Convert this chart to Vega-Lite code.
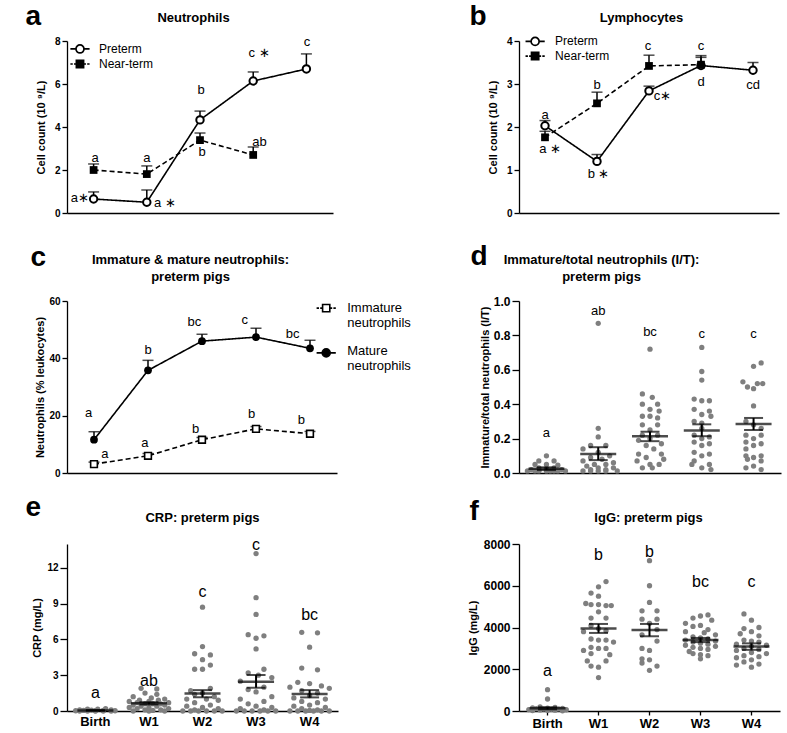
{
"$schema": "https://vega.github.io/schema/vega-lite/v6.json",
"padding": {"left": 25, "top": 2, "right": 2, "bottom": 2},
"background": "white",
"columns": 2,
"spacing": {"row": 14, "column": 56},
"resolve": {"scale": {"shape": "independent", "fill": "independent", "strokeDash": "independent", "color": "independent", "xOffset": "independent"}},
"datasets": {
"lines": [
{"p":"a","s":"Preterm","t":1,"v":0.65,"hi":0.98},{"p":"a","s":"Preterm","t":2,"v":0.50,"hi":1.07},{"p":"a","s":"Preterm","t":3,"v":4.33,"hi":4.74},{"p":"a","s":"Preterm","t":4,"v":6.14,"hi":6.56},{"p":"a","s":"Preterm","t":5,"v":6.70,"hi":7.40},
{"p":"a","s":"Near-term","t":1,"v":2.00,"hi":2.28},{"p":"a","s":"Near-term","t":2,"v":1.81,"hi":2.19},{"p":"a","s":"Near-term","t":3,"v":3.39,"hi":3.72},{"p":"a","s":"Near-term","t":4,"v":2.70,"hi":3.07},
{"p":"b","s":"Preterm","t":1,"v":2.03,"hi":2.15},{"p":"b","s":"Preterm","t":2,"v":1.20,"hi":1.36},{"p":"b","s":"Preterm","t":3,"v":2.84,"hi":2.95},{"p":"b","s":"Preterm","t":4,"v":3.43,"hi":3.62},{"p":"b","s":"Preterm","t":5,"v":3.32,"hi":3.50},
{"p":"b","s":"Near-term","t":1,"v":1.76,"hi":1.90},{"p":"b","s":"Near-term","t":2,"v":2.55,"hi":2.81},{"p":"b","s":"Near-term","t":3,"v":3.42,"hi":3.67},{"p":"b","s":"Near-term","t":4,"v":3.45,"hi":3.66},
{"p":"c","s":"Mature","t":1,"v":11.6,"hi":14.4},{"p":"c","s":"Mature","t":2,"v":35.8,"hi":39.3},{"p":"c","s":"Mature","t":3,"v":46.0,"hi":48.4},{"p":"c","s":"Mature","t":4,"v":47.4,"hi":50.5},{"p":"c","s":"Mature","t":5,"v":43.5,"hi":46.3},
{"p":"c","s":"Immature","t":1,"v":3.1,"hi":3.8},{"p":"c","s":"Immature","t":2,"v":6.0,"hi":6.8},{"p":"c","s":"Immature","t":3,"v":11.6,"hi":12.4},{"p":"c","s":"Immature","t":4,"v":15.4,"hi":16.2},{"p":"c","s":"Immature","t":5,"v":13.7,"hi":14.5}
],
"leg": [
{"p":"a","k":"sym","s":"Preterm","t":0.744,"v":7.63},{"p":"a","k":"sym","s":"Near-term","t":0.744,"v":6.93},
{"p":"a","k":"lab","t":0.744,"v":7.63,"lab":"Preterm"},{"p":"a","k":"lab","t":0.744,"v":6.93,"lab":"Near-term"},
{"p":"b","k":"sym","s":"Preterm","t":0.81,"v":3.99},{"p":"b","k":"sym","s":"Near-term","t":0.81,"v":3.65},
{"p":"b","k":"lab","t":0.81,"v":3.99,"lab":"Preterm"},{"p":"b","k":"lab","t":0.81,"v":3.65,"lab":"Near-term"},
{"p":"c","k":"sym","s":"Immature","t":5.3,"v":57.5},{"p":"c","k":"sym","s":"Mature","t":5.3,"v":41.9},
{"p":"c","k":"lab","t":5.3,"v":57.5,"lab":"Immature"},{"p":"c","k":"lab","t":5.3,"v":52.2,"lab":"neutrophils"},{"p":"c","k":"lab","t":5.3,"v":42.6,"lab":"Mature"},{"p":"c","k":"lab","t":5.3,"v":37.3,"lab":"neutrophils"}
],
"ann": [
{"p":"a","t":0.74,"v":0.70,"txt":"a∗"},{"p":"a","t":2.34,"v":0.47,"txt":"a ∗"},{"p":"a","t":3.02,"v":5.72,"txt":"b"},{"p":"a","t":4.11,"v":7.44,"txt":"c ∗"},{"p":"a","t":5.01,"v":7.95,"txt":"c"},
{"p":"a","t":1.03,"v":2.56,"txt":"a"},{"p":"a","t":2.0,"v":2.56,"txt":"a"},{"p":"a","t":3.04,"v":2.84,"txt":"b"},{"p":"a","t":4.12,"v":3.30,"txt":"ab"},
{"p":"b","t":1.0,"v":2.29,"txt":"a"},{"p":"b","t":1.10,"v":1.50,"txt":"a ∗"},{"p":"b","t":2.03,"v":0.90,"txt":"b ∗"},{"p":"b","t":2.0,"v":2.98,"txt":"b"},{"p":"b","t":2.98,"v":3.88,"txt":"c"},
{"p":"b","t":3.26,"v":2.71,"txt":"c∗"},{"p":"b","t":4.0,"v":3.88,"txt":"c"},{"p":"b","t":4.0,"v":3.05,"txt":"d"},{"p":"b","t":5.0,"v":2.98,"txt":"cd"},
{"p":"c","t":0.9,"v":21.1,"txt":"a"},{"p":"c","t":2.0,"v":42.8,"txt":"b"},{"p":"c","t":2.86,"v":52.6,"txt":"bc"},{"p":"c","t":3.79,"v":53.3,"txt":"c"},{"p":"c","t":4.68,"v":48.4,"txt":"bc"},
{"p":"c","t":1.2,"v":6.7,"txt":"a"},{"p":"c","t":1.94,"v":10.5,"txt":"a"},{"p":"c","t":2.88,"v":15.4,"txt":"b"},{"p":"c","t":3.92,"v":20.7,"txt":"b"},{"p":"c","t":4.84,"v":18.6,"txt":"b"},
{"p":"d","t":"Birth","v":0.235,"txt":"a"},{"p":"d","t":"W1","v":0.94,"txt":"ab"},{"p":"d","t":"W2","v":0.82,"txt":"bc"},{"p":"d","t":"W3","v":0.81,"txt":"c"},{"p":"d","t":"W4","v":0.81,"txt":"c"},
{"p":"e","t":"Birth","v":1.5,"txt":"a"},{"p":"e","t":"W1","v":2.5,"txt":"ab"},{"p":"e","t":"W2","v":10.0,"txt":"c"},{"p":"e","t":"W3","v":13.9,"txt":"c"},{"p":"e","t":"W4","v":8.05,"txt":"bc"},
{"p":"f","t":"Birth","v":1930,"txt":"a"},{"p":"f","t":"W1","v":7470,"txt":"b"},{"p":"f","t":"W2","v":7620,"txt":"b"},{"p":"f","t":"W3","v":6180,"txt":"bc"},{"p":"f","t":"W4","v":6180,"txt":"c"}
],
"summ": [
{"p":"d","t":"Birth","v":0.025,"lo":0.017,"hi":0.033},{"p":"d","t":"W1","v":0.11,"lo":0.075,"hi":0.15},{"p":"d","t":"W2","v":0.214,"lo":0.185,"hi":0.24},{"p":"d","t":"W3","v":0.247,"lo":0.214,"hi":0.283},{"p":"d","t":"W4","v":0.285,"lo":0.25,"hi":0.32},
{"p":"e","t":"Birth","v":0.05,"lo":0.03,"hi":0.07},{"p":"e","t":"W1","v":0.64,"lo":0.55,"hi":0.74},{"p":"e","t":"W2","v":1.46,"lo":1.15,"hi":1.75},{"p":"e","t":"W3","v":2.46,"lo":1.95,"hi":3.02},{"p":"e","t":"W4","v":1.42,"lo":1.14,"hi":1.75},
{"p":"f","t":"Birth","v":130,"lo":80,"hi":180},{"p":"f","t":"W1","v":3950,"lo":3740,"hi":4170},{"p":"f","t":"W2","v":3880,"lo":3580,"hi":4170},{"p":"f","t":"W3","v":3400,"lo":3300,"hi":3500},{"p":"f","t":"W4","v":3090,"lo":2930,"hi":3240}
],
"scatter": [
{"p":"d","t":"Birth","v":0.10,"j":0},{"p":"d","t":"Birth","v":0.07,"j":-1},{"p":"d","t":"Birth","v":0.07,"j":1},{"p":"d","t":"Birth","v":0.05,"j":-1.5},{"p":"d","t":"Birth","v":0.05,"j":0},{"p":"d","t":"Birth","v":0.045,"j":1.5},{"p":"d","t":"Birth","v":0.03,"j":-1},{"p":"d","t":"Birth","v":0.03,"j":1},{"p":"d","t":"Birth","v":0.025,"j":0},{"p":"d","t":"Birth","v":0.02,"j":-2},{"p":"d","t":"Birth","v":0.02,"j":2},{"p":"d","t":"Birth","v":0.015,"j":-1},{"p":"d","t":"Birth","v":0.015,"j":1},{"p":"d","t":"Birth","v":0.012,"j":0},{"p":"d","t":"Birth","v":0.012,"j":-1.5},{"p":"d","t":"Birth","v":0.012,"j":1.5},{"p":"d","t":"Birth","v":0.012,"j":-2.5},{"p":"d","t":"Birth","v":0.012,"j":-1},{"p":"d","t":"Birth","v":0.012,"j":0.5},{"p":"d","t":"Birth","v":0.012,"j":1},{"p":"d","t":"Birth","v":0.012,"j":2.5},
{"p":"d","t":"W1","v":0.87,"j":0},{"p":"d","t":"W1","v":0.26,"j":0},{"p":"d","t":"W1","v":0.21,"j":0},{"p":"d","t":"W1","v":0.16,"j":-1},{"p":"d","t":"W1","v":0.16,"j":1},{"p":"d","t":"W1","v":0.14,"j":-2},{"p":"d","t":"W1","v":0.12,"j":0},{"p":"d","t":"W1","v":0.10,"j":1.5},{"p":"d","t":"W1","v":0.09,"j":-1},{"p":"d","t":"W1","v":0.08,"j":0.5},{"p":"d","t":"W1","v":0.07,"j":-2},{"p":"d","t":"W1","v":0.06,"j":2},{"p":"d","t":"W1","v":0.05,"j":-0.5},{"p":"d","t":"W1","v":0.05,"j":1},{"p":"d","t":"W1","v":0.04,"j":-1.5},{"p":"d","t":"W1","v":0.03,"j":0},{"p":"d","t":"W1","v":0.03,"j":2},{"p":"d","t":"W1","v":0.02,"j":-1},{"p":"d","t":"W1","v":0.02,"j":1},{"p":"d","t":"W1","v":0.012,"j":-2},{"p":"d","t":"W1","v":0.012,"j":0},{"p":"d","t":"W1","v":0.012,"j":-1},{"p":"d","t":"W1","v":0.012,"j":1},{"p":"d","t":"W1","v":0.012,"j":2.5},
{"p":"d","t":"W2","v":0.72,"j":0},{"p":"d","t":"W2","v":0.46,"j":-1},{"p":"d","t":"W2","v":0.44,"j":0.3},{"p":"d","t":"W2","v":0.40,"j":-1},{"p":"d","t":"W2","v":0.40,"j":1},{"p":"d","t":"W2","v":0.37,"j":0},{"p":"d","t":"W2","v":0.36,"j":1.2},{"p":"d","t":"W2","v":0.33,"j":-1},{"p":"d","t":"W2","v":0.33,"j":0},{"p":"d","t":"W2","v":0.32,"j":1},{"p":"d","t":"W2","v":0.28,"j":-1},{"p":"d","t":"W2","v":0.28,"j":1},{"p":"d","t":"W2","v":0.25,"j":0},{"p":"d","t":"W2","v":0.22,"j":-1},{"p":"d","t":"W2","v":0.22,"j":1},{"p":"d","t":"W2","v":0.20,"j":0},{"p":"d","t":"W2","v":0.19,"j":-1.5},{"p":"d","t":"W2","v":0.17,"j":1.5},{"p":"d","t":"W2","v":0.16,"j":-0.5},{"p":"d","t":"W2","v":0.14,"j":0.5},{"p":"d","t":"W2","v":0.11,"j":-1.5},{"p":"d","t":"W2","v":0.11,"j":1.5},{"p":"d","t":"W2","v":0.09,"j":-0.5},{"p":"d","t":"W2","v":0.08,"j":1.8},{"p":"d","t":"W2","v":0.07,"j":-1.7},{"p":"d","t":"W2","v":0.05,"j":0},{"p":"d","t":"W2","v":0.05,"j":1.2},{"p":"d","t":"W2","v":0.03,"j":-1},{"p":"d","t":"W2","v":0.03,"j":0.3},
{"p":"d","t":"W3","v":0.73,"j":0},{"p":"d","t":"W3","v":0.59,"j":0},{"p":"d","t":"W3","v":0.54,"j":0},{"p":"d","t":"W3","v":0.43,"j":-1},{"p":"d","t":"W3","v":0.42,"j":0},{"p":"d","t":"W3","v":0.42,"j":1},{"p":"d","t":"W3","v":0.37,"j":-1},{"p":"d","t":"W3","v":0.36,"j":1},{"p":"d","t":"W3","v":0.34,"j":0},{"p":"d","t":"W3","v":0.33,"j":1.2},{"p":"d","t":"W3","v":0.30,"j":-1},{"p":"d","t":"W3","v":0.29,"j":0},{"p":"d","t":"W3","v":0.26,"j":0},{"p":"d","t":"W3","v":0.22,"j":-1},{"p":"d","t":"W3","v":0.21,"j":1},{"p":"d","t":"W3","v":0.20,"j":0},{"p":"d","t":"W3","v":0.18,"j":-1},{"p":"d","t":"W3","v":0.17,"j":1},{"p":"d","t":"W3","v":0.16,"j":0},{"p":"d","t":"W3","v":0.12,"j":-1},{"p":"d","t":"W3","v":0.11,"j":1},{"p":"d","t":"W3","v":0.10,"j":0},{"p":"d","t":"W3","v":0.07,"j":-1},{"p":"d","t":"W3","v":0.05,"j":1},{"p":"d","t":"W3","v":0.05,"j":-1.3},{"p":"d","t":"W3","v":0.03,"j":0},{"p":"d","t":"W3","v":0.02,"j":1.2},
{"p":"d","t":"W4","v":0.64,"j":1},{"p":"d","t":"W4","v":0.62,"j":0},{"p":"d","t":"W4","v":0.53,"j":-1.4},{"p":"d","t":"W4","v":0.52,"j":0.5},{"p":"d","t":"W4","v":0.52,"j":1.2},{"p":"d","t":"W4","v":0.50,"j":-0.8},{"p":"d","t":"W4","v":0.49,"j":0},{"p":"d","t":"W4","v":0.39,"j":0},{"p":"d","t":"W4","v":0.30,"j":-1},{"p":"d","t":"W4","v":0.28,"j":0},{"p":"d","t":"W4","v":0.26,"j":1},{"p":"d","t":"W4","v":0.22,"j":-1},{"p":"d","t":"W4","v":0.22,"j":1},{"p":"d","t":"W4","v":0.20,"j":0},{"p":"d","t":"W4","v":0.18,"j":-1},{"p":"d","t":"W4","v":0.17,"j":1},{"p":"d","t":"W4","v":0.16,"j":0},{"p":"d","t":"W4","v":0.14,"j":-1},{"p":"d","t":"W4","v":0.10,"j":-1},{"p":"d","t":"W4","v":0.10,"j":1},{"p":"d","t":"W4","v":0.09,"j":0},{"p":"d","t":"W4","v":0.08,"j":-0.8},{"p":"d","t":"W4","v":0.07,"j":1},{"p":"d","t":"W4","v":0.04,"j":0},{"p":"d","t":"W4","v":0.03,"j":-1},{"p":"d","t":"W4","v":0.02,"j":1},
{"p":"e","t":"Birth","v":0.2,"j":1.3},{"p":"e","t":"Birth","v":0.15,"j":-1},{"p":"e","t":"Birth","v":0.15,"j":0.3},{"p":"e","t":"Birth","v":0.1,"j":-2},{"p":"e","t":"Birth","v":0.1,"j":2},{"p":"e","t":"Birth","v":0.08,"j":-0.5},{"p":"e","t":"Birth","v":0.05,"j":1},{"p":"e","t":"Birth","v":0.05,"j":-1.5},{"p":"e","t":"Birth","v":0.03,"j":0},{"p":"e","t":"Birth","v":0.02,"j":-2.5},{"p":"e","t":"Birth","v":0.02,"j":2.5},{"p":"e","t":"Birth","v":0,"j":-1},{"p":"e","t":"Birth","v":0,"j":1},{"p":"e","t":"Birth","v":0,"j":0},{"p":"e","t":"Birth","v":0,"j":-2},{"p":"e","t":"Birth","v":0,"j":2},
{"p":"e","t":"W1","v":1.9,"j":-1},{"p":"e","t":"W1","v":1.85,"j":1},{"p":"e","t":"W1","v":1.5,"j":-0.5},{"p":"e","t":"W1","v":1.4,"j":1},{"p":"e","t":"W1","v":1.2,"j":-2},{"p":"e","t":"W1","v":1.1,"j":0.3},{"p":"e","t":"W1","v":1.0,"j":2},{"p":"e","t":"W1","v":0.9,"j":-1.2},{"p":"e","t":"W1","v":0.9,"j":1.2},{"p":"e","t":"W1","v":0.8,"j":-2.5},{"p":"e","t":"W1","v":0.8,"j":0},{"p":"e","t":"W1","v":0.7,"j":2.5},{"p":"e","t":"W1","v":0.7,"j":-1.5},{"p":"e","t":"W1","v":0.6,"j":1.5},{"p":"e","t":"W1","v":0.6,"j":-0.5},{"p":"e","t":"W1","v":0.6,"j":0.5},{"p":"e","t":"W1","v":0.5,"j":-2},{"p":"e","t":"W1","v":0.5,"j":2},{"p":"e","t":"W1","v":0.4,"j":-1},{"p":"e","t":"W1","v":0.4,"j":1},{"p":"e","t":"W1","v":0.3,"j":0},{"p":"e","t":"W1","v":0.3,"j":-2.5},{"p":"e","t":"W1","v":0.2,"j":2.5},{"p":"e","t":"W1","v":0.2,"j":-1.5},{"p":"e","t":"W1","v":0.1,"j":1.5},{"p":"e","t":"W1","v":0.1,"j":-0.5},{"p":"e","t":"W1","v":0.05,"j":0.5},{"p":"e","t":"W1","v":0,"j":-2},{"p":"e","t":"W1","v":0,"j":2},{"p":"e","t":"W1","v":0,"j":0},
{"p":"e","t":"W2","v":8.7,"j":0},{"p":"e","t":"W2","v":5.4,"j":0},{"p":"e","t":"W2","v":4.8,"j":-1},{"p":"e","t":"W2","v":4.7,"j":1},{"p":"e","t":"W2","v":4.3,"j":0},{"p":"e","t":"W2","v":3.85,"j":1},{"p":"e","t":"W2","v":3.5,"j":-1},{"p":"e","t":"W2","v":3.5,"j":0},{"p":"e","t":"W2","v":1.9,"j":1},{"p":"e","t":"W2","v":1.7,"j":-1.5},{"p":"e","t":"W2","v":1.5,"j":0},{"p":"e","t":"W2","v":1.4,"j":-1},{"p":"e","t":"W2","v":1.2,"j":1.5},{"p":"e","t":"W2","v":1.0,"j":-2},{"p":"e","t":"W2","v":1.0,"j":0.5},{"p":"e","t":"W2","v":0.9,"j":2},{"p":"e","t":"W2","v":0.7,"j":-1},{"p":"e","t":"W2","v":0.5,"j":1},{"p":"e","t":"W2","v":0.4,"j":-2},{"p":"e","t":"W2","v":0.3,"j":0},{"p":"e","t":"W2","v":0.2,"j":2},{"p":"e","t":"W2","v":0.1,"j":-1},{"p":"e","t":"W2","v":0,"j":-2.5},{"p":"e","t":"W2","v":0,"j":-1.5},{"p":"e","t":"W2","v":0,"j":-0.5},{"p":"e","t":"W2","v":0,"j":0.5},{"p":"e","t":"W2","v":0,"j":1.5},{"p":"e","t":"W2","v":0,"j":2.5},
{"p":"e","t":"W3","v":13.2,"j":0},{"p":"e","t":"W3","v":9.5,"j":0},{"p":"e","t":"W3","v":8.1,"j":0},{"p":"e","t":"W3","v":6.4,"j":-1},{"p":"e","t":"W3","v":6.3,"j":1},{"p":"e","t":"W3","v":6.1,"j":0},{"p":"e","t":"W3","v":5.2,"j":0},{"p":"e","t":"W3","v":3.5,"j":1},{"p":"e","t":"W3","v":3.2,"j":-1},{"p":"e","t":"W3","v":3.0,"j":0.3},{"p":"e","t":"W3","v":2.8,"j":2},{"p":"e","t":"W3","v":2.5,"j":-2},{"p":"e","t":"W3","v":2.0,"j":1},{"p":"e","t":"W3","v":1.8,"j":-1},{"p":"e","t":"W3","v":1.6,"j":0},{"p":"e","t":"W3","v":1.2,"j":2},{"p":"e","t":"W3","v":1.0,"j":-2},{"p":"e","t":"W3","v":0.8,"j":1},{"p":"e","t":"W3","v":0.6,"j":-1},{"p":"e","t":"W3","v":0.4,"j":0},{"p":"e","t":"W3","v":0.3,"j":2},{"p":"e","t":"W3","v":0.2,"j":-2},{"p":"e","t":"W3","v":0.1,"j":1},{"p":"e","t":"W3","v":0,"j":-2.5},{"p":"e","t":"W3","v":0,"j":-1.5},{"p":"e","t":"W3","v":0,"j":-0.5},{"p":"e","t":"W3","v":0,"j":0.5},{"p":"e","t":"W3","v":0,"j":1.5},{"p":"e","t":"W3","v":0,"j":2.5},
{"p":"e","t":"W4","v":6.6,"j":-1},{"p":"e","t":"W4","v":6.55,"j":1},{"p":"e","t":"W4","v":5.35,"j":0},{"p":"e","t":"W4","v":3.6,"j":-1},{"p":"e","t":"W4","v":3.45,"j":1},{"p":"e","t":"W4","v":2.4,"j":-1.5},{"p":"e","t":"W4","v":2.3,"j":0},{"p":"e","t":"W4","v":2.1,"j":1.5},{"p":"e","t":"W4","v":2.0,"j":-2.5},{"p":"e","t":"W4","v":1.9,"j":2.5},{"p":"e","t":"W4","v":1.7,"j":-1},{"p":"e","t":"W4","v":1.5,"j":1},{"p":"e","t":"W4","v":1.3,"j":0},{"p":"e","t":"W4","v":1.1,"j":-2},{"p":"e","t":"W4","v":1.0,"j":2},{"p":"e","t":"W4","v":0.8,"j":-1},{"p":"e","t":"W4","v":0.7,"j":1},{"p":"e","t":"W4","v":0.5,"j":0},{"p":"e","t":"W4","v":0.4,"j":-2},{"p":"e","t":"W4","v":0.3,"j":2},{"p":"e","t":"W4","v":0.2,"j":-1},{"p":"e","t":"W4","v":0.1,"j":1},{"p":"e","t":"W4","v":0.05,"j":0},{"p":"e","t":"W4","v":0,"j":-2.5},{"p":"e","t":"W4","v":0,"j":-1.5},{"p":"e","t":"W4","v":0,"j":-0.5},{"p":"e","t":"W4","v":0,"j":0.5},{"p":"e","t":"W4","v":0,"j":1.5},{"p":"e","t":"W4","v":0,"j":2.5},
{"p":"f","t":"Birth","v":1020,"j":0},{"p":"f","t":"Birth","v":575,"j":0},{"p":"f","t":"Birth","v":200,"j":-1},{"p":"f","t":"Birth","v":170,"j":1},{"p":"f","t":"Birth","v":150,"j":-2},{"p":"f","t":"Birth","v":140,"j":0},{"p":"f","t":"Birth","v":130,"j":2},{"p":"f","t":"Birth","v":110,"j":-1.5},{"p":"f","t":"Birth","v":100,"j":1.5},{"p":"f","t":"Birth","v":90,"j":-0.5},{"p":"f","t":"Birth","v":80,"j":0.5},{"p":"f","t":"Birth","v":70,"j":-2.5},{"p":"f","t":"Birth","v":60,"j":2.5},{"p":"f","t":"Birth","v":50,"j":-1},{"p":"f","t":"Birth","v":40,"j":1},{"p":"f","t":"Birth","v":30,"j":0},{"p":"f","t":"Birth","v":20,"j":-2},{"p":"f","t":"Birth","v":10,"j":2},
{"p":"f","t":"W1","v":6200,"j":1},{"p":"f","t":"W1","v":5950,"j":0},{"p":"f","t":"W1","v":5650,"j":-1},{"p":"f","t":"W1","v":5500,"j":0},{"p":"f","t":"W1","v":5150,"j":-1.7},{"p":"f","t":"W1","v":5100,"j":-1},{"p":"f","t":"W1","v":5100,"j":0},{"p":"f","t":"W1","v":5050,"j":1},{"p":"f","t":"W1","v":5050,"j":1.7},{"p":"f","t":"W1","v":4750,"j":0},{"p":"f","t":"W1","v":4450,"j":-1},{"p":"f","t":"W1","v":4450,"j":1},{"p":"f","t":"W1","v":4100,"j":-1},{"p":"f","t":"W1","v":3950,"j":0},{"p":"f","t":"W1","v":3850,"j":1},{"p":"f","t":"W1","v":3800,"j":-2},{"p":"f","t":"W1","v":3450,"j":-1},{"p":"f","t":"W1","v":3400,"j":0},{"p":"f","t":"W1","v":3400,"j":1},{"p":"f","t":"W1","v":3300,"j":2},{"p":"f","t":"W1","v":3050,"j":-1},{"p":"f","t":"W1","v":3000,"j":0},{"p":"f","t":"W1","v":3000,"j":1},{"p":"f","t":"W1","v":2900,"j":-2},{"p":"f","t":"W1","v":2750,"j":-1},{"p":"f","t":"W1","v":2700,"j":1.5},{"p":"f","t":"W1","v":2400,"j":1},{"p":"f","t":"W1","v":2400,"j":-1.5},{"p":"f","t":"W1","v":2150,"j":-1},{"p":"f","t":"W1","v":2100,"j":0},{"p":"f","t":"W1","v":1600,"j":0},
{"p":"f","t":"W2","v":7200,"j":0},{"p":"f","t":"W2","v":6000,"j":0},{"p":"f","t":"W2","v":5200,"j":0},{"p":"f","t":"W2","v":4800,"j":-1},{"p":"f","t":"W2","v":4800,"j":1},{"p":"f","t":"W2","v":4400,"j":-1},{"p":"f","t":"W2","v":4400,"j":1},{"p":"f","t":"W2","v":4200,"j":0},{"p":"f","t":"W2","v":3900,"j":1},{"p":"f","t":"W2","v":3650,"j":-1},{"p":"f","t":"W2","v":3350,"j":1},{"p":"f","t":"W2","v":3000,"j":-1},{"p":"f","t":"W2","v":2900,"j":0},{"p":"f","t":"W2","v":2500,"j":-1},{"p":"f","t":"W2","v":2450,"j":0},{"p":"f","t":"W2","v":2300,"j":-1},{"p":"f","t":"W2","v":2150,"j":1},{"p":"f","t":"W2","v":1950,"j":0},
{"p":"f","t":"W3","v":4600,"j":1},{"p":"f","t":"W3","v":4550,"j":0},{"p":"f","t":"W3","v":4450,"j":-1},{"p":"f","t":"W3","v":4350,"j":1.5},{"p":"f","t":"W3","v":4200,"j":-2},{"p":"f","t":"W3","v":4100,"j":0},{"p":"f","t":"W3","v":4050,"j":-1},{"p":"f","t":"W3","v":3900,"j":1},{"p":"f","t":"W3","v":3800,"j":-2},{"p":"f","t":"W3","v":3750,"j":0.5},{"p":"f","t":"W3","v":3650,"j":2},{"p":"f","t":"W3","v":3550,"j":-1},{"p":"f","t":"W3","v":3500,"j":0},{"p":"f","t":"W3","v":3450,"j":1},{"p":"f","t":"W3","v":3400,"j":-2},{"p":"f","t":"W3","v":3350,"j":2},{"p":"f","t":"W3","v":3300,"j":-1},{"p":"f","t":"W3","v":3250,"j":0},{"p":"f","t":"W3","v":3200,"j":1},{"p":"f","t":"W3","v":3150,"j":-2},{"p":"f","t":"W3","v":3100,"j":2},{"p":"f","t":"W3","v":3050,"j":-1},{"p":"f","t":"W3","v":3000,"j":0},{"p":"f","t":"W3","v":2950,"j":1},{"p":"f","t":"W3","v":2850,"j":-1.5},{"p":"f","t":"W3","v":2750,"j":-1},{"p":"f","t":"W3","v":2700,"j":0},{"p":"f","t":"W3","v":2650,"j":1},{"p":"f","t":"W3","v":2500,"j":0},
{"p":"f","t":"W4","v":4650,"j":-1},{"p":"f","t":"W4","v":4350,"j":0},{"p":"f","t":"W4","v":4000,"j":1},{"p":"f","t":"W4","v":3950,"j":-1},{"p":"f","t":"W4","v":3800,"j":0},{"p":"f","t":"W4","v":3700,"j":-1.5},{"p":"f","t":"W4","v":3600,"j":1},{"p":"f","t":"W4","v":3400,"j":-1},{"p":"f","t":"W4","v":3350,"j":0},{"p":"f","t":"W4","v":3300,"j":1},{"p":"f","t":"W4","v":3200,"j":-2},{"p":"f","t":"W4","v":3150,"j":2},{"p":"f","t":"W4","v":3100,"j":0},{"p":"f","t":"W4","v":3000,"j":-1},{"p":"f","t":"W4","v":2950,"j":1},{"p":"f","t":"W4","v":2900,"j":-2},{"p":"f","t":"W4","v":2800,"j":0},{"p":"f","t":"W4","v":2750,"j":2},{"p":"f","t":"W4","v":2650,"j":-1},{"p":"f","t":"W4","v":2600,"j":1},{"p":"f","t":"W4","v":2550,"j":-2},{"p":"f","t":"W4","v":2450,"j":0},{"p":"f","t":"W4","v":2350,"j":-1},{"p":"f","t":"W4","v":2250,"j":1},{"p":"f","t":"W4","v":2200,"j":-2},{"p":"f","t":"W4","v":2100,"j":0}
]
},
"concat": [
{"width": 266, "height": 172,
 "resolve": {"axis": {"x": "independent"}},
 "encoding": {
  "x": {"field": "t", "type": "quantitative", "scale": {"domain": [0.5, 5.5], "nice": false, "zero": false}, "axis": null},
  "y": {"field": "v", "type": "quantitative", "scale": {"domain": [0, 8]}, "axis": {"values": [0, 2, 4, 6, 8], "title": "Cell count (10 ⁹/L)", "labelFontSize": 10, "titlePadding": 8, "tickSize": 5}}
 },
 "layer": [
  {"data": {"name": "lines"}, "transform": [{"filter": "datum.p === 'a'"}], "mark": {"type": "line", "color": "black", "strokeWidth": 1.6}, "encoding": {"x": {"field": "t", "type": "quantitative", "scale": {"domain": [0.5, 5.5], "nice": false, "zero": false}, "axis": {"labels": false, "ticks": false, "title": null}}, "strokeDash": {"field": "s", "type": "nominal", "scale": {"domain": ["Preterm", "Near-term"], "range": [[1, 0], [5, 3]]}, "legend": null}}},
  {"data": {"name": "lines"}, "transform": [{"filter": "datum.p === 'a'"}], "mark": {"type": "rule", "color": "black", "strokeWidth": 1.5}, "encoding": {"y2": {"field": "hi"}}},
  {"data": {"name": "lines"}, "transform": [{"filter": "datum.p === 'a'"}], "mark": {"type": "tick", "orient": "horizontal", "color": "black", "size": 11, "thickness": 1.5}, "encoding": {"y": {"field": "hi", "type": "quantitative", "scale": {"domain": [0, 8]}}}},
  {"data": {"name": "lines"}, "transform": [{"filter": "datum.p === 'a' && datum.s === 'Preterm'"}], "mark": {"type": "point", "shape": "circle", "filled": true, "fill": "white", "stroke": "black", "strokeWidth": 2, "size": 55, "opacity": 1}},
  {"data": {"name": "lines"}, "transform": [{"filter": "datum.p === 'a' && datum.s === 'Near-term'"}], "mark": {"type": "point", "shape": "square", "filled": true, "color": "black", "size": 60, "opacity": 1}},
  {"data": {"name": "ann"}, "transform": [{"filter": "datum.p === 'a'"}], "mark": {"type": "text", "fontSize": 13, "baseline": "middle"}, "encoding": {"x": {"field": "t", "type": "quantitative", "scale": {"domain": [0.5, 5.5], "nice": false, "zero": false}, "axis": {"orient": "top", "domain": false, "ticks": false, "labels": false, "title": "Neutrophils", "titleFontSize": 13, "titleX": 126, "titleY": -19.5, "titleAlign": "center", "titleBaseline": "alphabetic", "titleAngle": 0}}, "text": {"field": "txt"}}},
  {"data": {"name": "leg"}, "transform": [{"filter": "datum.p === 'a' && datum.k === 'sym'"}], "mark": {"type": "point", "filled": false, "color": "black", "strokeWidth": 1.7, "size": 64, "opacity": 1},
   "encoding": {
    "x": {"field": "t", "type": "quantitative", "scale": {"domain": [0.5, 5.5], "nice": false, "zero": false}, "axis": {"orient": "top", "domain": false, "ticks": false, "labels": false, "title": "a", "titleFontSize": 28, "titleFontWeight": "bold", "titleX": -42, "titleY": -17, "titleAlign": "left", "titleBaseline": "alphabetic", "titleAngle": 0}},
    "shape": {"field": "s", "type": "nominal", "scale": {"domain": ["Preterm", "Near-term"], "range": ["M-2.4,0L-1,0M1,0L2.4,0M1,0A1,1,0,1,1,-1,0A1,1,0,1,1,1,0Z", "M-2.4,0L-1.8,0M-1.5,0L-0.9,0M0.9,0L1.5,0M1.8,0L2.4,0M-0.9,-0.9L0.9,-0.9L0.9,0.9L-0.9,0.9Z"]}, "legend": null},
    "fill": {"field": "s", "type": "nominal", "scale": {"domain": ["Preterm", "Near-term"], "range": ["white", "black"]}, "legend": null}
   }},
  {"data": {"name": "leg"}, "transform": [{"filter": "datum.p === 'a' && datum.k === 'lab'"}], "mark": {"type": "text", "fontSize": 12, "align": "left", "baseline": "middle", "dx": 19}, "encoding": {"text": {"field": "lab"}}}
 ]
},
{"width": 260, "height": 172,
 "resolve": {"axis": {"x": "independent"}},
 "encoding": {
  "x": {"field": "t", "type": "quantitative", "scale": {"domain": [0.5, 5.5], "nice": false, "zero": false}, "axis": null},
  "y": {"field": "v", "type": "quantitative", "scale": {"domain": [0, 4]}, "axis": {"values": [0, 1, 2, 3, 4], "title": "Cell count (10 ⁹/L)", "labelFontSize": 10, "titlePadding": 8, "tickSize": 5}}
 },
 "layer": [
  {"data": {"name": "lines"}, "transform": [{"filter": "datum.p === 'b'"}], "mark": {"type": "line", "color": "black", "strokeWidth": 1.6}, "encoding": {"x": {"field": "t", "type": "quantitative", "scale": {"domain": [0.5, 5.5], "nice": false, "zero": false}, "axis": {"labels": false, "ticks": false, "title": null}}, "strokeDash": {"field": "s", "type": "nominal", "scale": {"domain": ["Preterm", "Near-term"], "range": [[1, 0], [5, 3]]}, "legend": null}}},
  {"data": {"name": "lines"}, "transform": [{"filter": "datum.p === 'b'"}], "mark": {"type": "rule", "color": "black", "strokeWidth": 1.5}, "encoding": {"y2": {"field": "hi"}}},
  {"data": {"name": "lines"}, "transform": [{"filter": "datum.p === 'b'"}], "mark": {"type": "tick", "orient": "horizontal", "color": "black", "size": 11, "thickness": 1.5}, "encoding": {"y": {"field": "hi", "type": "quantitative", "scale": {"domain": [0, 4]}}}},
  {"data": {"name": "lines"}, "transform": [{"filter": "datum.p === 'b' && datum.s === 'Preterm'"}], "mark": {"type": "point", "shape": "circle", "filled": true, "fill": "white", "stroke": "black", "strokeWidth": 2, "size": 55, "opacity": 1}},
  {"data": {"name": "lines"}, "transform": [{"filter": "datum.p === 'b' && datum.s === 'Near-term'"}], "mark": {"type": "point", "shape": "square", "filled": true, "color": "black", "size": 60, "opacity": 1}},
  {"data": {"name": "ann"}, "transform": [{"filter": "datum.p === 'b'"}], "mark": {"type": "text", "fontSize": 13, "baseline": "middle"}, "encoding": {"x": {"field": "t", "type": "quantitative", "scale": {"domain": [0.5, 5.5], "nice": false, "zero": false}, "axis": {"orient": "top", "domain": false, "ticks": false, "labels": false, "title": "Lymphocytes", "titleFontSize": 13, "titleX": 122, "titleY": -19.5, "titleAlign": "center", "titleBaseline": "alphabetic", "titleAngle": 0}}, "text": {"field": "txt"}}},
  {"data": {"name": "leg"}, "transform": [{"filter": "datum.p === 'b' && datum.k === 'sym'"}], "mark": {"type": "point", "filled": false, "color": "black", "strokeWidth": 1.7, "size": 64, "opacity": 1},
   "encoding": {
    "x": {"field": "t", "type": "quantitative", "scale": {"domain": [0.5, 5.5], "nice": false, "zero": false}, "axis": {"orient": "top", "domain": false, "ticks": false, "labels": false, "title": "b", "titleFontSize": 28, "titleFontWeight": "bold", "titleX": -50, "titleY": -16.5, "titleAlign": "left", "titleBaseline": "alphabetic", "titleAngle": 0}},
    "shape": {"field": "s", "type": "nominal", "scale": {"domain": ["Preterm", "Near-term"], "range": ["M-2.4,0L-1,0M1,0L2.4,0M1,0A1,1,0,1,1,-1,0A1,1,0,1,1,1,0Z", "M-2.4,0L-1.8,0M-1.5,0L-0.9,0M0.9,0L1.5,0M1.8,0L2.4,0M-0.9,-0.9L0.9,-0.9L0.9,0.9L-0.9,0.9Z"]}, "legend": null},
    "fill": {"field": "s", "type": "nominal", "scale": {"domain": ["Preterm", "Near-term"], "range": ["white", "black"]}, "legend": null}
   }},
  {"data": {"name": "leg"}, "transform": [{"filter": "datum.p === 'b' && datum.k === 'lab'"}], "mark": {"type": "text", "fontSize": 12, "align": "left", "baseline": "middle", "dx": 20}, "encoding": {"text": {"field": "lab"}}}
 ]
},
{"width": 270, "height": 172,
 "resolve": {"axis": {"x": "independent"}},
 "encoding": {
  "x": {"field": "t", "type": "quantitative", "scale": {"domain": [0.5, 5.5], "nice": false, "zero": false}, "axis": null},
  "y": {"field": "v", "type": "quantitative", "scale": {"domain": [0, 60]}, "axis": {"values": [0, 20, 40, 60], "title": "Neutrophils (% leukocytes)", "labelFontSize": 10, "titlePadding": 3, "tickSize": 5}}
 },
 "layer": [
  {"data": {"name": "lines"}, "transform": [{"filter": "datum.p === 'c'"}], "mark": {"type": "line", "color": "black", "strokeWidth": 1.6}, "encoding": {"x": {"field": "t", "type": "quantitative", "scale": {"domain": [0.5, 5.5], "nice": false, "zero": false}, "axis": {"labels": false, "ticks": false, "title": null}}, "strokeDash": {"field": "s", "type": "nominal", "scale": {"domain": ["Immature", "Mature"], "range": [[5, 3], [1, 0]]}, "legend": null}}},
  {"data": {"name": "lines"}, "transform": [{"filter": "datum.p === 'c'"}], "mark": {"type": "rule", "color": "black", "strokeWidth": 1.5}, "encoding": {"y2": {"field": "hi"}}},
  {"data": {"name": "lines"}, "transform": [{"filter": "datum.p === 'c'"}], "mark": {"type": "tick", "orient": "horizontal", "color": "black", "size": 11, "thickness": 1.5}, "encoding": {"y": {"field": "hi", "type": "quantitative", "scale": {"domain": [0, 60]}}}},
  {"data": {"name": "lines"}, "transform": [{"filter": "datum.p === 'c' && datum.s === 'Immature'"}], "mark": {"type": "point", "shape": "square", "filled": true, "fill": "white", "stroke": "black", "strokeWidth": 1.6, "size": 45, "opacity": 1}},
  {"data": {"name": "lines"}, "transform": [{"filter": "datum.p === 'c' && datum.s === 'Mature'"}], "mark": {"type": "point", "shape": "circle", "filled": true, "color": "black", "size": 60, "opacity": 1}},
  {"data": {"name": "ann"}, "transform": [{"filter": "datum.p === 'c'"}], "mark": {"type": "text", "fontSize": 13, "baseline": "middle"}, "encoding": {"x": {"field": "t", "type": "quantitative", "scale": {"domain": [0.5, 5.5], "nice": false, "zero": false}, "axis": {"orient": "top", "domain": false, "ticks": false, "labels": false, "title": ["Immature & mature neutrophils:", "preterm pigs"], "titleFontSize": 13, "titleLineHeight": 16.5, "titleX": 123, "titleY": -37.5, "titleAlign": "center", "titleBaseline": "alphabetic", "titleAngle": 0}}, "text": {"field": "txt"}}},
  {"data": {"name": "leg"}, "transform": [{"filter": "datum.p === 'c' && datum.k === 'sym'"}], "mark": {"type": "point", "filled": false, "color": "black", "strokeWidth": 1.6, "size": 64, "opacity": 1},
   "encoding": {
    "x": {"field": "t", "type": "quantitative", "scale": {"domain": [0.5, 5.5], "nice": false, "zero": false}, "axis": {"orient": "top", "domain": false, "ticks": false, "labels": false, "title": "c", "titleFontSize": 28, "titleFontWeight": "bold", "titleX": -37, "titleY": -35.2, "titleAlign": "left", "titleBaseline": "alphabetic", "titleAngle": 0}},
    "shape": {"field": "s", "type": "nominal", "scale": {"domain": ["Immature", "Mature"], "range": ["M-2.4,0L-1.8,0M-1.5,0L-0.9,0M0.9,0L1.5,0M1.8,0L2.4,0M-0.9,-0.9L0.9,-0.9L0.9,0.9L-0.9,0.9Z", "M-2.4,0L-1,0M1,0L2.4,0M1,0A1,1,0,1,1,-1,0A1,1,0,1,1,1,0Z"]}, "legend": null},
    "fill": {"field": "s", "type": "nominal", "scale": {"domain": ["Immature", "Mature"], "range": ["white", "black"]}, "legend": null}
   }},
  {"data": {"name": "leg"}, "transform": [{"filter": "datum.p === 'c' && datum.k === 'lab'"}], "mark": {"type": "text", "fontSize": 13, "align": "left", "baseline": "middle", "dx": 21}, "encoding": {"text": {"field": "lab"}}}
 ]
},
{"width": 262, "height": 172,
 "resolve": {"axis": {"x": "independent"}},
 "encoding": {
  "x": {"field": "t", "type": "ordinal", "sort": ["Birth", "W1", "W2", "W3", "W4"], "scale": {"type": "band", "paddingInner": 0, "paddingOuter": 0.03}, "axis": null},
  "y": {"field": "v", "type": "quantitative", "scale": {"domain": [0, 1]}, "axis": {"values": [0, 0.2, 0.4, 0.6, 0.8, 1.0], "format": ".1f", "title": "Immature/total neutrophils  (I/T)", "labelFontSize": 12, "titlePadding": 3, "tickSize": 7}}
 },
 "layer": [
  {"data": {"name": "scatter"}, "transform": [{"filter": "datum.p === 'd'"}], "mark": {"type": "circle", "color": "#7f7f7f", "size": 28, "opacity": 1}, "encoding": {"x": {"field": "t", "type": "ordinal", "sort": ["Birth", "W1", "W2", "W3", "W4"], "scale": {"type": "band", "paddingInner": 0, "paddingOuter": 0.03}, "axis": {"labels": false, "ticks": false, "title": null}}, "xOffset": {"field": "j", "type": "quantitative", "scale": {"domain": [-3.4, 3.4]}}}},
  {"data": {"name": "summ"}, "transform": [{"filter": "datum.p === 'd'"}], "mark": {"type": "tick", "color": "black", "size": 36, "thickness": 2.5}, "encoding": {"x": {"field": "t", "type": "ordinal", "sort": ["Birth", "W1", "W2", "W3", "W4"], "scale": {"type": "band", "paddingInner": 0, "paddingOuter": 0.03}, "axis": {"orient": "top", "domain": false, "ticks": false, "labels": false, "title": [" ", "d"], "titleLineHeight": 10, "titleFontSize": 28, "titleFontWeight": "bold", "titleX": -49, "titleY": -46.6, "titleAlign": "left", "titleBaseline": "alphabetic", "titleAngle": 0}}}},
  {"data": {"name": "summ"}, "transform": [{"filter": "datum.p === 'd'"}], "mark": {"type": "rule", "color": "black", "strokeWidth": 2}, "encoding": {"y": {"field": "lo", "type": "quantitative", "scale": {"domain": [0, 1]}}, "y2": {"field": "hi"}}},
  {"data": {"name": "summ"}, "transform": [{"filter": "datum.p === 'd'"}], "mark": {"type": "tick", "color": "black", "size": 19, "thickness": 2}, "encoding": {"y": {"field": "lo", "type": "quantitative", "scale": {"domain": [0, 1]}}}},
  {"data": {"name": "summ"}, "transform": [{"filter": "datum.p === 'd'"}], "mark": {"type": "tick", "color": "black", "size": 19, "thickness": 2}, "encoding": {"y": {"field": "hi", "type": "quantitative", "scale": {"domain": [0, 1]}}}},
  {"data": {"name": "ann"}, "transform": [{"filter": "datum.p === 'd'"}], "mark": {"type": "text", "fontSize": 13, "baseline": "middle"}, "encoding": {"x": {"field": "t", "type": "ordinal", "sort": ["Birth", "W1", "W2", "W3", "W4"], "scale": {"type": "band", "paddingInner": 0, "paddingOuter": 0.03}, "axis": {"orient": "top", "domain": false, "ticks": false, "labels": false, "title": ["Immature/total neutrophils (I/T):", "preterm pigs"], "titleFontSize": 13, "titleLineHeight": 16.5, "titleX": 82, "titleY": -37.5, "titleAlign": "center", "titleBaseline": "alphabetic", "titleAngle": 0}}, "text": {"field": "txt"}}}
 ]
},
{"width": 271, "height": 167,
 "resolve": {"axis": {"x": "independent"}},
 "encoding": {
  "x": {"field": "t", "type": "ordinal", "sort": ["Birth", "W1", "W2", "W3", "W4"], "scale": {"type": "band", "paddingInner": 0, "paddingOuter": 0.03}, "axis": null},
  "y": {"field": "v", "type": "quantitative", "scale": {"domain": [0, 14]}, "axis": {"values": [0, 3, 6, 9, 12], "title": "CRP (mg/L)", "labelFontSize": 10, "titlePadding": 4, "tickSize": 7}}
 },
 "layer": [
  {"data": {"name": "scatter"}, "transform": [{"filter": "datum.p === 'e'"}], "mark": {"type": "circle", "color": "#7f7f7f", "size": 28, "opacity": 1}, "encoding": {"x": {"field": "t", "type": "ordinal", "sort": ["Birth", "W1", "W2", "W3", "W4"], "scale": {"type": "band", "paddingInner": 0, "paddingOuter": 0.03}, "axis": {"ticks": false, "title": null, "labelAngle": 0, "labelFontSize": 13, "labelPadding": 4}}, "xOffset": {"field": "j", "type": "quantitative", "scale": {"domain": [-3.4, 3.4]}}}},
  {"data": {"name": "summ"}, "transform": [{"filter": "datum.p === 'e'"}], "mark": {"type": "tick", "color": "black", "size": 36, "thickness": 2.5}, "encoding": {"x": {"field": "t", "type": "ordinal", "sort": ["Birth", "W1", "W2", "W3", "W4"], "scale": {"type": "band", "paddingInner": 0, "paddingOuter": 0.03}, "axis": {"orient": "top", "domain": false, "ticks": false, "labels": false, "title": "e", "titleFontSize": 28, "titleFontWeight": "bold", "titleX": -42, "titleY": -28.2, "titleAlign": "left", "titleBaseline": "alphabetic", "titleAngle": 0}}}},
  {"data": {"name": "summ"}, "transform": [{"filter": "datum.p === 'e'"}], "mark": {"type": "rule", "color": "black", "strokeWidth": 2}, "encoding": {"y": {"field": "lo", "type": "quantitative", "scale": {"domain": [0, 14]}}, "y2": {"field": "hi"}}},
  {"data": {"name": "summ"}, "transform": [{"filter": "datum.p === 'e'"}], "mark": {"type": "tick", "color": "black", "size": 19, "thickness": 2}, "encoding": {"y": {"field": "lo", "type": "quantitative", "scale": {"domain": [0, 14]}}}},
  {"data": {"name": "summ"}, "transform": [{"filter": "datum.p === 'e'"}], "mark": {"type": "tick", "color": "black", "size": 19, "thickness": 2}, "encoding": {"y": {"field": "hi", "type": "quantitative", "scale": {"domain": [0, 14]}}}},
  {"data": {"name": "ann"}, "transform": [{"filter": "datum.p === 'e'"}], "mark": {"type": "text", "fontSize": 16, "baseline": "middle"}, "encoding": {"x": {"field": "t", "type": "ordinal", "sort": ["Birth", "W1", "W2", "W3", "W4"], "scale": {"type": "band", "paddingInner": 0, "paddingOuter": 0.03}, "axis": {"orient": "top", "domain": false, "ticks": false, "labels": false, "title": "CRP: preterm pigs", "titleFontSize": 13, "titleX": 135, "titleY": -23, "titleAlign": "center", "titleBaseline": "alphabetic", "titleAngle": 0}}, "text": {"field": "txt"}}}
 ]
},
{"width": 261, "height": 167,
 "resolve": {"axis": {"x": "independent"}},
 "encoding": {
  "x": {"field": "t", "type": "ordinal", "sort": ["Birth", "W1", "W2", "W3", "W4"], "scale": {"type": "band", "paddingInner": 0, "paddingOuter": 0.06}, "axis": null},
  "y": {"field": "v", "type": "quantitative", "scale": {"domain": [0, 8000]}, "axis": {"values": [0, 2000, 4000, 6000, 8000], "format": "d", "title": "IgG  (mg/L)", "labelFontSize": 12, "titlePadding": 5, "tickSize": 7}}
 },
 "layer": [
  {"data": {"name": "scatter"}, "transform": [{"filter": "datum.p === 'f'"}], "mark": {"type": "circle", "color": "#7f7f7f", "size": 28, "opacity": 1}, "encoding": {"x": {"field": "t", "type": "ordinal", "sort": ["Birth", "W1", "W2", "W3", "W4"], "scale": {"type": "band", "paddingInner": 0, "paddingOuter": 0.06}, "axis": {"ticks": true, "title": null, "labelAngle": 0, "labelFontSize": 13, "labelPadding": 2}}, "xOffset": {"field": "j", "type": "quantitative", "scale": {"domain": [-3.4, 3.4]}}}},
  {"data": {"name": "summ"}, "transform": [{"filter": "datum.p === 'f'"}], "mark": {"type": "tick", "color": "black", "size": 36, "thickness": 2.5}, "encoding": {"x": {"field": "t", "type": "ordinal", "sort": ["Birth", "W1", "W2", "W3", "W4"], "scale": {"type": "band", "paddingInner": 0, "paddingOuter": 0.06}, "axis": {"orient": "top", "domain": false, "ticks": false, "labels": false, "title": "f", "titleFontSize": 28, "titleFontWeight": "bold", "titleX": -50, "titleY": -24.6, "titleAlign": "left", "titleBaseline": "alphabetic", "titleAngle": 0}}}},
  {"data": {"name": "summ"}, "transform": [{"filter": "datum.p === 'f'"}], "mark": {"type": "rule", "color": "black", "strokeWidth": 2}, "encoding": {"y": {"field": "lo", "type": "quantitative", "scale": {"domain": [0, 8000]}}, "y2": {"field": "hi"}}},
  {"data": {"name": "summ"}, "transform": [{"filter": "datum.p === 'f'"}], "mark": {"type": "tick", "color": "black", "size": 19, "thickness": 2}, "encoding": {"y": {"field": "lo", "type": "quantitative", "scale": {"domain": [0, 8000]}}}},
  {"data": {"name": "summ"}, "transform": [{"filter": "datum.p === 'f'"}], "mark": {"type": "tick", "color": "black", "size": 19, "thickness": 2}, "encoding": {"y": {"field": "hi", "type": "quantitative", "scale": {"domain": [0, 8000]}}}},
  {"data": {"name": "ann"}, "transform": [{"filter": "datum.p === 'f'"}], "mark": {"type": "text", "fontSize": 16, "baseline": "middle"}, "encoding": {"x": {"field": "t", "type": "ordinal", "sort": ["Birth", "W1", "W2", "W3", "W4"], "scale": {"type": "band", "paddingInner": 0, "paddingOuter": 0.06}, "axis": {"orient": "top", "domain": false, "ticks": false, "labels": false, "title": "IgG: preterm pigs", "titleFontSize": 13, "titleX": 129, "titleY": -23, "titleAlign": "center", "titleBaseline": "alphabetic", "titleAngle": 0}}, "text": {"field": "txt"}}}
 ]
}
],
"config": {
 "font": "Liberation Sans",
 "view": {"stroke": null},
 "axis": {"grid": false, "domainColor": "black", "domainWidth": 1.3, "tickColor": "black", "tickWidth": 1.3, "tickSize": 4, "labelColor": "black", "labelFontSize": 11, "labelFontWeight": "bold", "labelFont": "Liberation Sans", "labelPadding": 2, "titleColor": "black", "titleFontSize": 11, "titleFontWeight": "bold", "titleFont": "Liberation Sans", "labelOverlap": false},
 "title": {"font": "Liberation Sans", "fontSize": 13, "fontWeight": "bold", "color": "black"},
 "text": {"font": "Liberation Sans", "color": "black"}
}
}
